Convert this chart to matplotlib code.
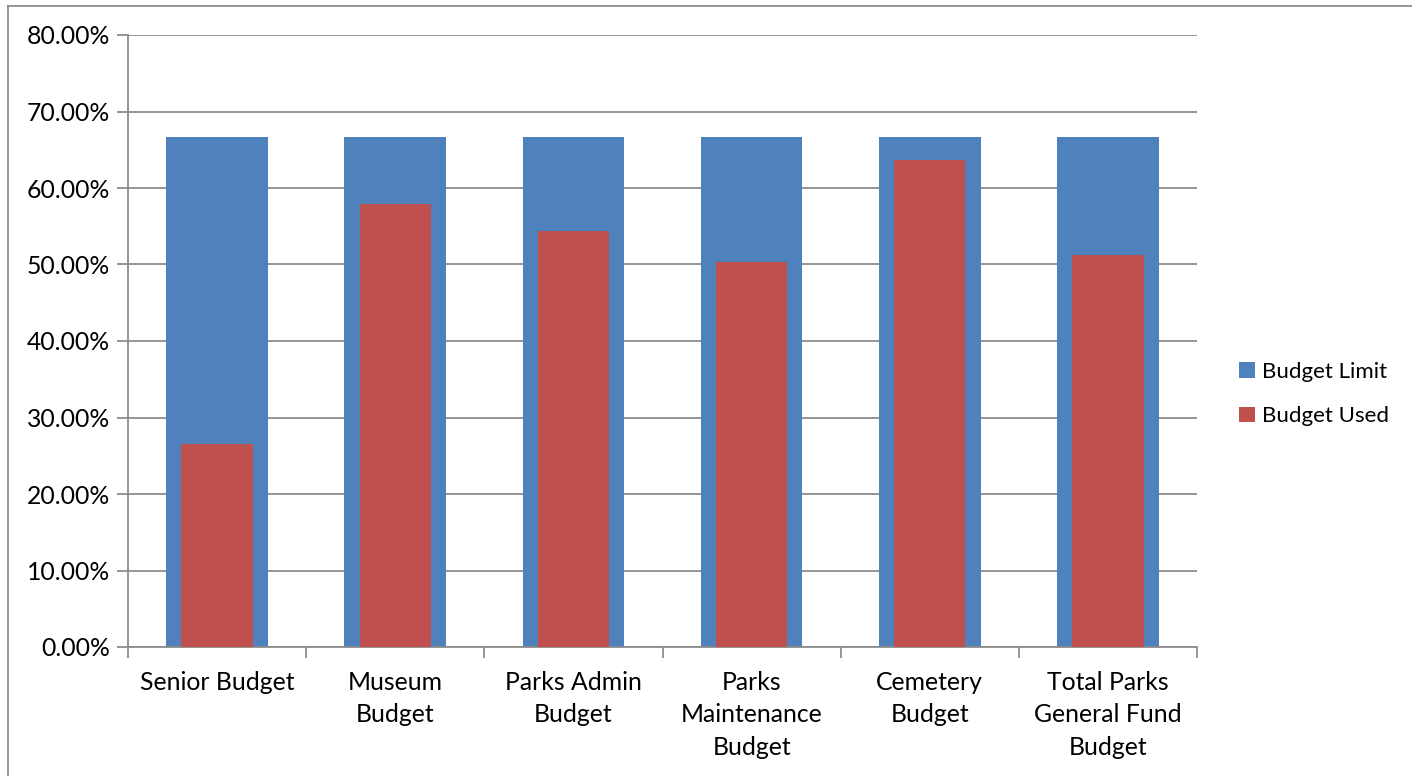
import matplotlib
matplotlib.use("Agg")
import matplotlib.pyplot as plt
from matplotlib.lines import Line2D
from matplotlib.ticker import FuncFormatter, MultipleLocator

categories = ["Senior Budget", "Museum\nBudget", "Parks Admin\nBudget",
              "Parks\nMaintenance\nBudget", "Cemetery\nBudget",
              "Total Parks\nGeneral Fund\nBudget"]
budget_limit = [0.6667, 0.6667, 0.6667, 0.6667, 0.6667, 0.6667]
budget_used = [0.266, 0.579, 0.544, 0.503, 0.637, 0.512]

BLUE = "#4F81BD"
RED = "#C0504D"
GRID = "#8C8C8C"

plt.rcParams["font.family"] = ["Lato", "DejaVu Sans"]

fig = plt.figure(figsize=(14.12, 7.76), dpi=100)
W, H = 1412, 776
ax = fig.add_axes([128 / W, 1 - 647 / H, (1197 - 128) / W, (647 - 35) / H])

x = list(range(len(categories)))
ax.bar(x, budget_limit, width=0.57, color=BLUE, label="Budget Limit", zorder=2)
ax.bar(x, budget_used, width=0.40, color=RED, label="Budget Used", zorder=3)

ax.set_xlim(-0.5, len(categories) - 0.5)
ax.set_ylim(0, 0.8)
ax.yaxis.set_major_locator(MultipleLocator(0.1))
ax.yaxis.set_major_formatter(FuncFormatter(lambda v, _: f"{v * 100:.2f}%"))
ax.grid(axis="y", color=GRID, linewidth=1.3, zorder=1)

# category boundaries as x ticks, labels centred under each bar
ax.set_xticks([i - 0.5 for i in range(len(categories) + 1)])
ax.set_xticklabels([])
ax.set_xticks(x, minor=True)
ax.set_xticklabels(categories, minor=True, fontsize=17.8, linespacing=1.48,
                   va="top")
ax.tick_params(axis="x", which="minor", length=0, pad=17.5)
ax.tick_params(axis="x", which="major", direction="out", length=8,
               color=GRID, width=1.3)
ax.tick_params(axis="y", direction="out", length=8, color=GRID, width=1.3,
               labelsize=17.8, pad=5)

for side in ("top", "right"):
    ax.spines[side].set_visible(False)
for side in ("left", "bottom"):
    ax.spines[side].set_color(GRID)
    ax.spines[side].set_linewidth(1.3)

fig.legend(loc="center left", bbox_to_anchor=(1219 / W, 1 - 394 / H),
           frameon=False, fontsize=16, handlelength=0.7, handleheight=0.7,
           handletextpad=0.35, labelspacing=1.1,
           handles=ax.get_legend_handles_labels()[0])

# chart frame edges along the top and left
top_y = 1 - 5.5 / H
left_x = 7.5 / W
fig.add_artist(Line2D([left_x, 1], [top_y, top_y], transform=fig.transFigure,
                      color=GRID, linewidth=1.3))
fig.add_artist(Line2D([left_x, left_x], [0, top_y], transform=fig.transFigure,
                      color=GRID, linewidth=1.3))

fig.savefig("out.png", dpi=100)
